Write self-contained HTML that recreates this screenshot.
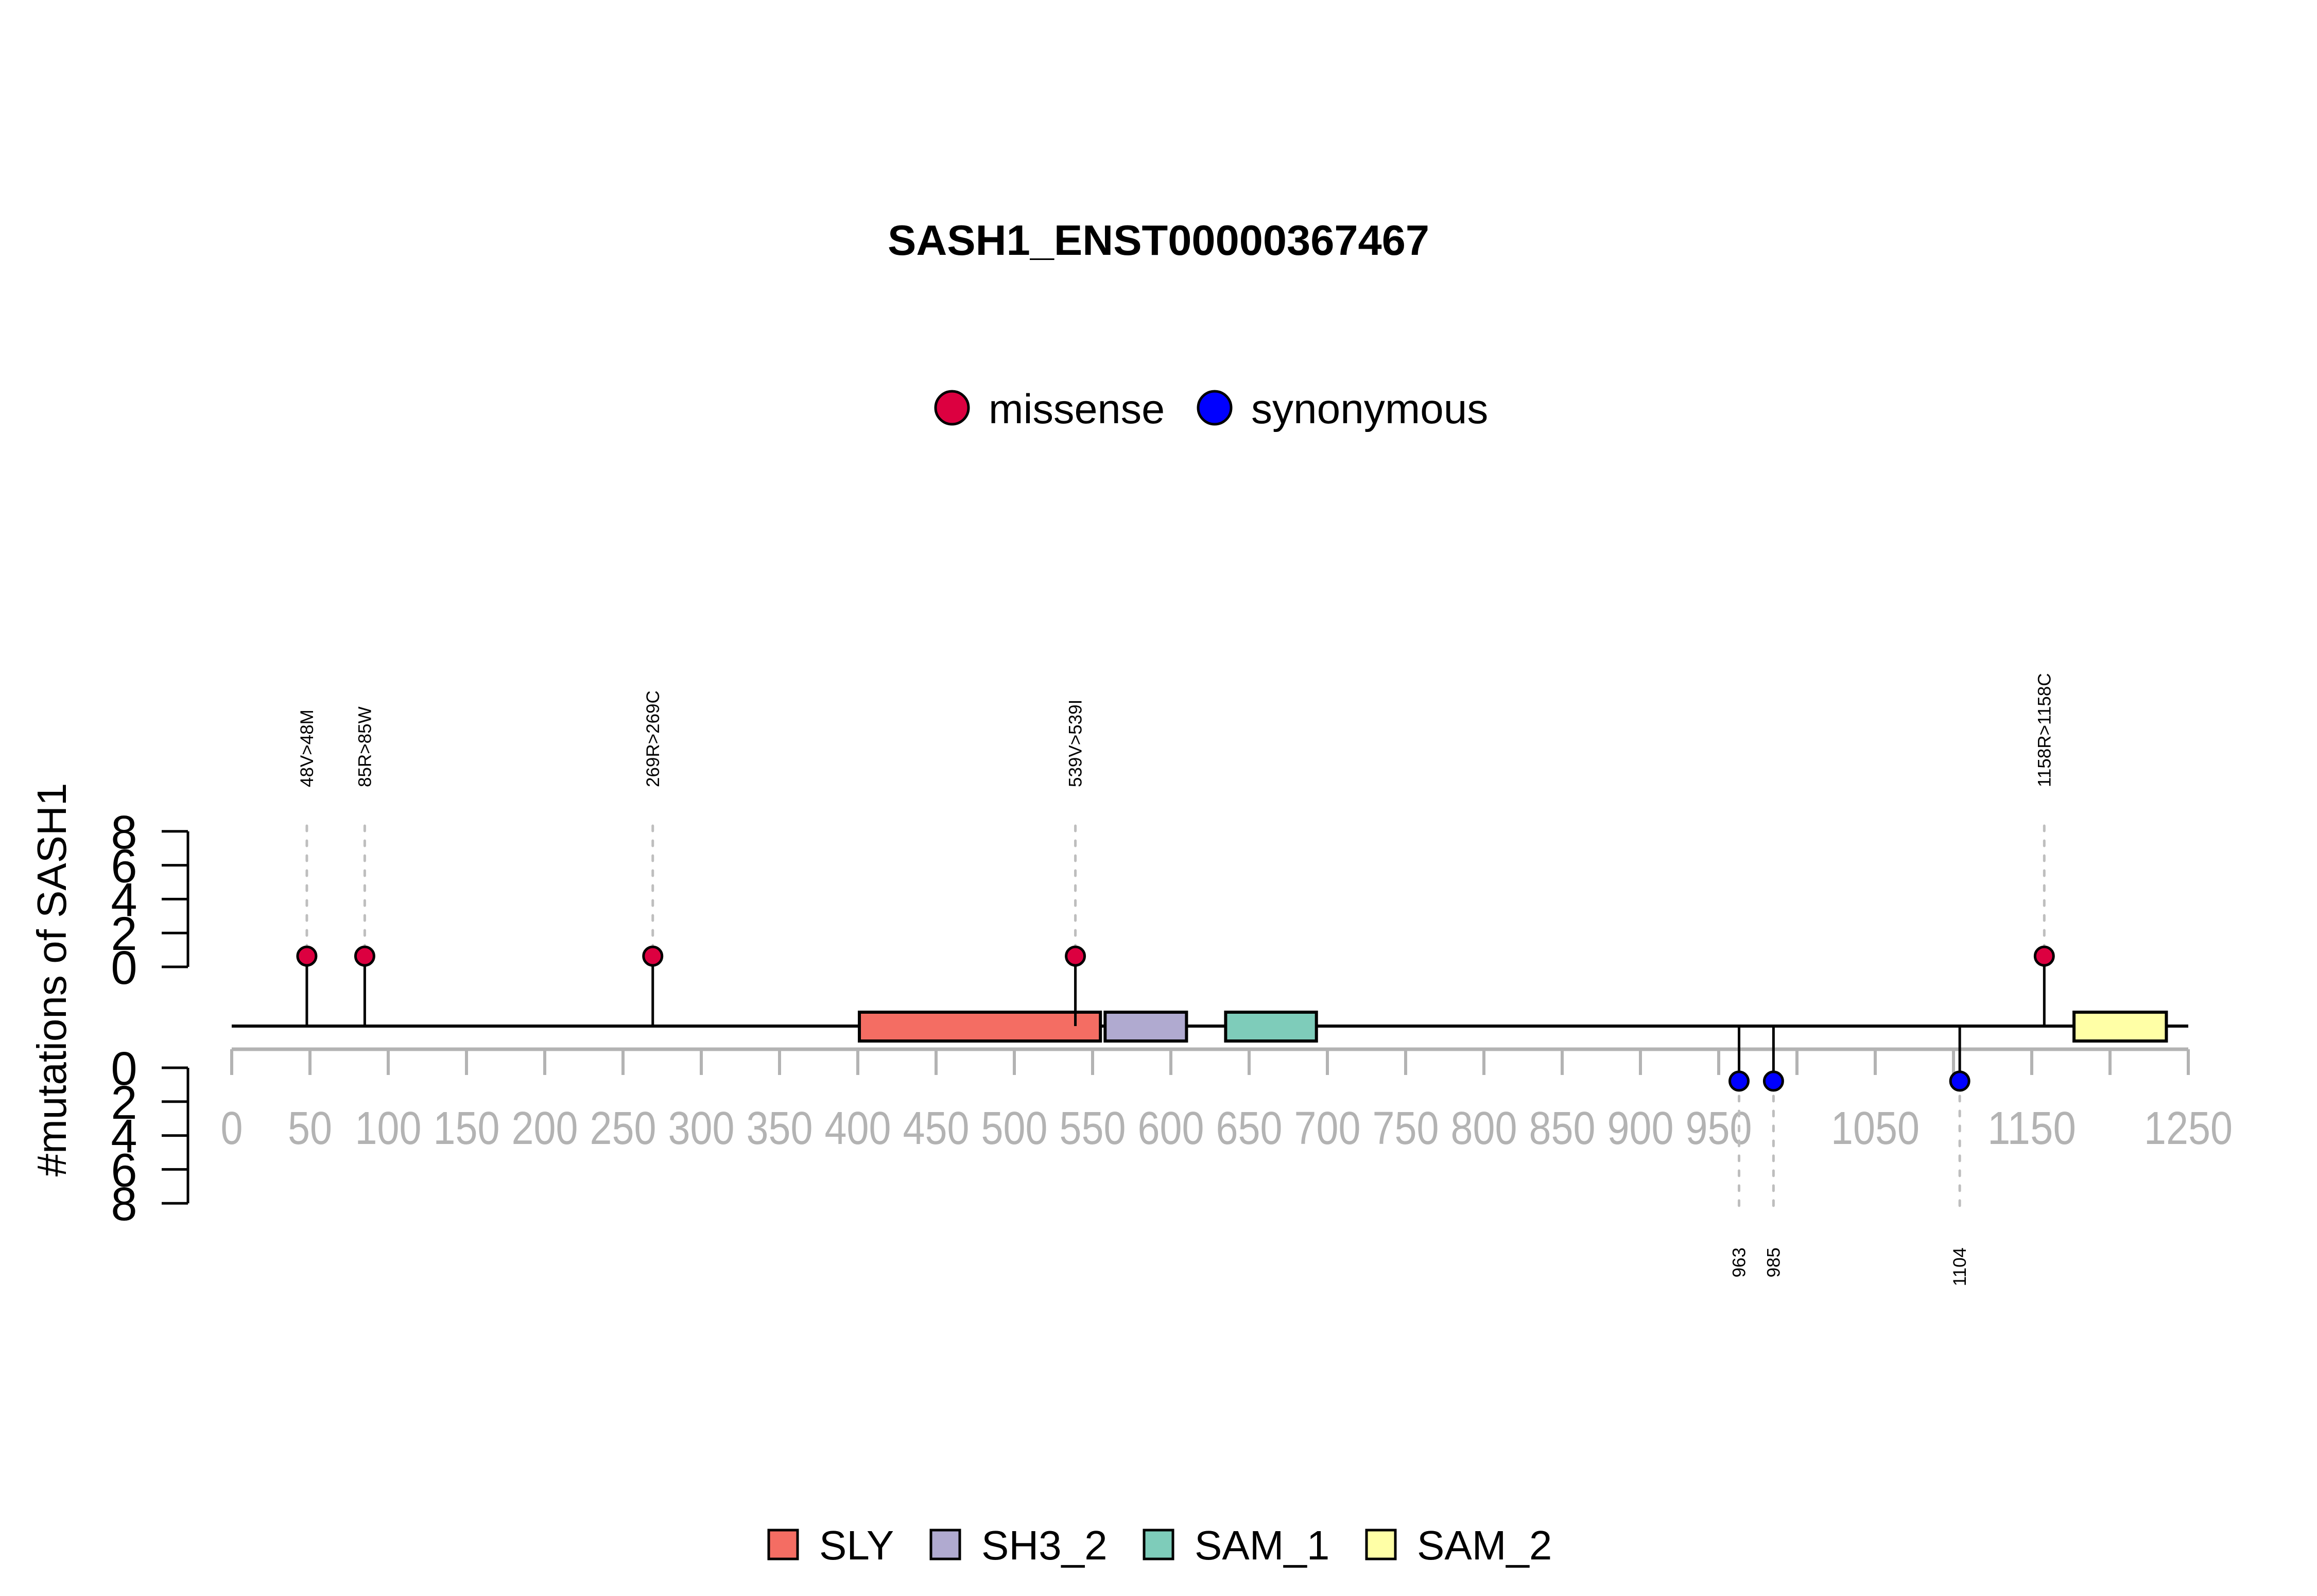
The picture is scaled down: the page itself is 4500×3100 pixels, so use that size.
<!DOCTYPE html>
<html><head><meta charset="utf-8"><title>SASH1 lollipop</title>
<style>html,body{margin:0;padding:0;background:#fff}svg{display:block}text{font-family:"Liberation Sans",Arial,sans-serif}</style>
</head><body>
<svg id="chart" xmlns="http://www.w3.org/2000/svg" width="4500" height="3100" viewBox="0 0 4500 3100">
<rect width="4500" height="3100" fill="#fff"/>
<text x="2250" y="495" text-anchor="middle" font-size="83" font-weight="bold">SASH1_ENST00000367467</text>
<g>
<circle cx="1849" cy="792" r="32" fill="#DC0040" stroke="#000" stroke-width="5"/>
<text x="1920" y="822" font-size="81">missense</text>
<circle cx="2359" cy="792" r="32" fill="#0000FF" stroke="#000" stroke-width="5"/>
<text x="2430" y="822" font-size="82">synonymous</text>
</g>
<text transform="translate(128,1903) rotate(-90)" text-anchor="middle" font-size="80">#mutations of SASH1</text>
<g id="plot"></g>
</svg>
<script>
const positions = [48, 85, 269, 539, 1158, 963, 985, 1104];
const counts = [1, 1, 1, 1, 1, 1, 1, 1];
const mutTypes = ["missense","missense","missense","missense","missense","synonymous","synonymous","synonymous"];
const mutLabels = ["48V>48M","85R>85W","269R>269C","539V>539I","1158R>1158C","963","985","1104"];
const domainNames = ["SLY","SH3_2","SAM_1","SAM_2"];
const domainStarts = [401, 558, 635, 1177];
const domainEnds = [555, 610, 693, 1236];
const xTicks = [0,50,100,150,200,250,300,350,400,450,500,550,600,650,700,750,800,850,900,950,1000,1050,1100,1150,1200,1250];
const xTickLabels = ["0","50","100","150","200","250","300","350","400","450","500","550","600","650","700","750","800","850","900","950","","1050","","1150","","1250"];
const yTicks = [0,2,4,6,8];

const NS = "http://www.w3.org/2000/svg";
const g = document.getElementById("plot");
const X0 = 450, X1 = 4250, L0 = 0, L1 = 1250;
const xs = v => X0 + (v - L0) / (L1 - L0) * (X1 - X0);
const UP0 = 1878, DN0 = 2074, UNIT = 32.9;
const yUp = v => UP0 - v * UNIT;
const yDn = v => DN0 + v * UNIT;
const BACK = 1993;
const colors = {missense:"#DC0040", synonymous:"#0000FF"};
const domColors = ["#F46D63","#B0AAD0","#7ECCBA","#FFFFA6"];
function el(tag, attrs, parent) {
  const e = document.createElementNS(NS, tag);
  for (const k in attrs) e.setAttribute(k, attrs[k]);
  (parent || g).appendChild(e);
  return e;
}
let ax = el("line", {x1:xs(0), x2:xs(1250), y1:2038, y2:2038, stroke:"#B3B3B3", "stroke-width":7});


xTicks.forEach((t, i) => {
  const tk = el("line", {x1:xs(t), x2:xs(t), y1:2038, y2:2088, stroke:"#B3B3B3", "stroke-width":6});
  
  
  if (xTickLabels[i]) {
    const tl = el("text", {x:xs(t), y:2222, "text-anchor":"middle", "font-size":90, fill:"#B3B3B3", textLength: xTickLabels[i].length * 43, lengthAdjust:"spacingAndGlyphs"});
    tl.textContent = xTickLabels[i];
    
    
  }
});
[[yUp, 'upper'], [yDn, 'lower']].forEach(([f, nm]) => {
  const yl = el("line", {x1:365, x2:365, y1:f(0), y2:f(8), stroke:"#000", "stroke-width":5});
  
  
  yTicks.forEach(t => {
    const tk = el("line", {x1:314, x2:365, y1:f(t), y2:f(t), stroke:"#000", "stroke-width":5});
    
    
    const tl = el("text", {x:241, y:f(t) + 33, "text-anchor":"middle", "font-size":92});
    tl.textContent = String(t);
    
    
  });
});
const bb = el("line", {x1:xs(0), x2:xs(1250), y1:BACK, y2:BACK, stroke:"#000", "stroke-width":6});


domainNames.forEach((d, i) => {
  const r = el("rect", {x:xs(domainStarts[i]), y:1966, width:xs(domainEnds[i]) - xs(domainStarts[i]), height:56, fill:domColors[i], stroke:"#000", "stroke-width":6});
  
  
});
positions.forEach((p, i) => {
  const up = mutTypes[i] === "missense";
  const cx = xs(p);
  const cy = up ? yUp(counts[i]) + 12 : yDn(counts[i]) - 7;
  const dash = el("line", {x1:cx, x2:cx, y1: up ? 1604 : cy, y2: up ? cy : 2349, stroke:"#BEBEBE", "stroke-width":5, "stroke-dasharray":"10 19", "stroke-linecap":"round"});
  
  
  const stem = el("line", {x1:cx, x2:cx, y1:BACK, y2:cy, stroke:"#000", "stroke-width":5});
  
  
  const c = el("circle", {cx:cx, cy:cy, r:18, fill:colors[mutTypes[i]], stroke:"#000", "stroke-width":5});
  
  
  const ty = up ? 1529 : 2423;
  const t = el("text", {transform:`translate(${cx + 12},${ty}) rotate(-90)`, "text-anchor": up ? "start" : "end", "font-size":35});
  t.textContent = mutLabels[i];
  
  
});
const legX = [1493, 1808, 2222, 2654];
domainNames.forEach((d, i) => {
  const r = el("rect", {x:legX[i], y:2972, width:56, height:56, fill:domColors[i], stroke:"#000", "stroke-width":5});
  
  
  const t = el("text", {x:legX[i] + 98, y:3029, "font-size":80});
  t.textContent = d;
  
  
});
</script>
</body></html>
